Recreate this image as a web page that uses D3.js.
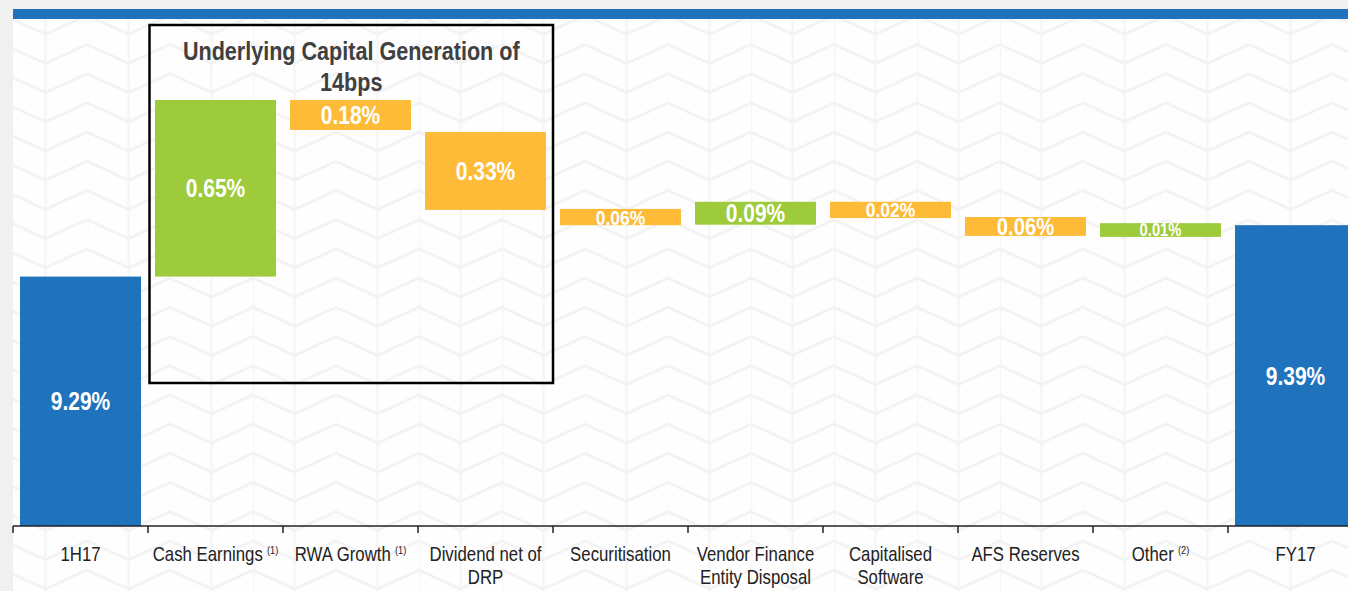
<!DOCTYPE html>
<html>
<head>
<meta charset="utf-8">
<script src="https://cdn.jsdelivr.net/npm/d3@7"></script>
<style>
  html, body { margin: 0; padding: 0; background: #f0f0f0; overflow: hidden; }
  svg { display: block; }
  text { font-family: "Liberation Sans", Arial, sans-serif; }
</style>
</head>
<body>
<svg id="chart" width="1348" height="591"></svg>
<script>
const categories = ["1H17", "Cash Earnings", "RWA Growth", "Dividend net of DRP", "Securitisation",
  "Vendor Finance Entity Disposal", "Capitalised Software", "AFS Reserves", "Other", "FY17"];
const tickLines = [["1H17"], ["Cash Earnings"], ["RWA Growth"], ["Dividend net of", "DRP"], ["Securitisation"],
  ["Vendor Finance", "Entity Disposal"], ["Capitalised", "Software"], ["AFS Reserves"], ["Other"], ["FY17"]];
const footnotes = ["", "(1)", "(1)", "", "", "", "", "", "(2)", ""];
const kinds = ["total", "up", "down", "down", "down", "up", "down", "down", "up", "total"];
// bar ends as drawn in the slide (not to scale with the labels)
const barFrom = [8.80, 9.290, 9.637, 9.574, 9.423, 9.392, 9.437, 9.407, 9.368, 8.80];
const barTo   = [9.290, 9.637, 9.578, 9.421, 9.391, 9.437, 9.405, 9.370, 9.395, 9.391];
const valueLabels = ["9.29%", "0.65%", "0.18%", "0.33%", "0.06%", "0.09%", "0.02%", "0.06%", "0.01%", "9.39%"];
const titleLines = ["Underlying Capital Generation of", "14bps"];

const width = 1348, height = 591;
const colors = { total: "#1f72bc", up: "#9dcb3b", down: "#fdbb38" };
const squeeze = 0.84; // the slide uses a condensed face

const data = categories.map((c, i) => ({
  name: c, lines: tickLines[i], note: footnotes[i], kind: kinds[i],
  from: barFrom[i], to: barTo[i], label: valueLabels[i]
}));

const x = d3.scaleBand()
  .domain(categories)
  .range([13, 1363])
  .paddingInner(0.104)
  .paddingOuter(0.052);

const y = d3.scaleLinear()
  .domain([8.8, 9.8])
  .range([526, 17]);

const slotStart = c => x(c) - x.step() * x.paddingInner() / 2;

const svg = d3.select("#chart");

// background with faint chevron pattern
const defs = svg.append("defs");
const pat = defs.append("pattern")
  .attr("id", "chev")
  .attr("patternUnits", "userSpaceOnUse")
  .attr("width", 83).attr("height", 29.2)
  .attr("patternTransform", "translate(4,15.2)");
pat.append("rect").attr("width", 83).attr("height", 29.2).attr("fill", "#fefefe");
pat.append("path")
  .attr("d", "M0,0V29.2M41.5,0V29.2")
  .attr("stroke", "#f6f6f6").attr("stroke-width", 2.5).attr("fill", "none");
[-29.2, 0, 29.2].forEach(o => {
  pat.append("path")
    .attr("d", `M0,${o}L41.5,${o + 19}L83,${o}`)
    .attr("stroke", "#f2f2f2").attr("stroke-width", 2.5).attr("fill", "none");
});

svg.append("rect")
  .attr("x", 13).attr("y", 19).attr("width", width - 13).attr("height", height - 19)
  .attr("fill", "url(#chev)");

svg.append("rect")
  .attr("x", 13).attr("y", 9).attr("width", width - 13).attr("height", 10)
  .attr("fill", "#1f72bc");

// bars
svg.append("g")
  .selectAll("rect")
  .data(data)
  .join("rect")
    .attr("x", d => x(d.name))
    .attr("y", d => y(Math.max(d.from, d.to)))
    .attr("width", x.bandwidth())
    .attr("height", d => Math.abs(y(d.from) - y(d.to)))
    .attr("fill", d => colors[d.kind]);

// value labels
svg.append("g")
  .selectAll("g")
  .data(data)
  .join("g")
    .attr("transform", d => {
      const h = Math.abs(y(d.from) - y(d.to));
      d.fs = Math.min(25, Math.max(12, h * 1.28));
      const cy = (y(d.from) + y(d.to)) / 2 + d.fs * 0.36;
      return `translate(${x(d.name) + x.bandwidth() / 2},${cy}) scale(${squeeze},1)`;
    })
  .append("text")
    .attr("text-anchor", "middle")
    .attr("fill", "#fff")
    .attr("font-weight", "bold")
    .attr("font-size", d => d.fs)
    .text(d => d.label);

// x axis
const axis = svg.append("g");
axis.append("line")
  .attr("x1", 13).attr("x2", width)
  .attr("y1", 526).attr("y2", 526)
  .attr("stroke", "#222").attr("stroke-width", 1.5);
axis.selectAll(".tick")
  .data(categories)
  .join("line")
    .attr("class", "tick")
    .attr("x1", d => slotStart(d)).attr("x2", d => slotStart(d))
    .attr("y1", 526).attr("y2", 533)
    .attr("stroke", "#222").attr("stroke-width", 1.5);

const lbl = axis.selectAll(".lbl")
  .data(data)
  .join("g")
    .attr("class", "lbl")
    .attr("transform", d => `translate(${x(d.name) + x.bandwidth() / 2},0) scale(${squeeze},1)`)
  .append("text")
    .attr("text-anchor", "middle")
    .attr("font-size", 20)
    .attr("fill", "#222");
lbl.each(function (d) {
  const t = d3.select(this);
  d.lines.forEach((line, i) => {
    t.append("tspan").attr("x", 0).attr("y", 561 + i * 23).text(line);
  });
  if (d.note) {
    t.append("tspan").attr("font-size", 11).attr("dx", 5).attr("dy", -7).text(d.note);
  }
});

// annotation box
const boxX0 = slotStart("Cash Earnings") + 1.5;
const boxX1 = slotStart("Securitisation");
svg.append("rect")
  .attr("x", boxX0).attr("y", 25)
  .attr("width", boxX1 - boxX0).attr("height", 358)
  .attr("fill", "none").attr("stroke", "#000").attr("stroke-width", 2.5);

svg.append("g")
  .selectAll("g")
  .data(titleLines)
  .join("g")
    .attr("transform", (d, i) => `translate(${(boxX0 + boxX1) / 2},${60 + i * 31}) scale(0.83,1)`)
  .append("text")
    .attr("text-anchor", "middle")
    .attr("font-weight", "bold")
    .attr("font-size", 26)
    .attr("fill", "#404040")
    .text(d => d);
</script>
</body>
</html>
